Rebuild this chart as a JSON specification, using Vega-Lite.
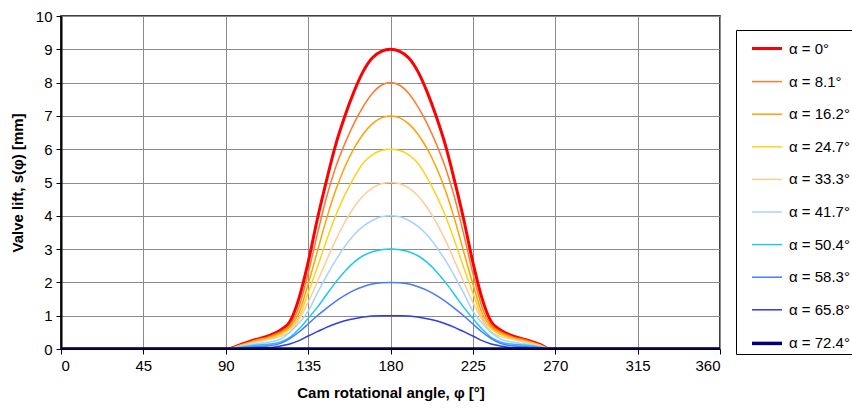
{
  "$schema": "https://vega.github.io/schema/vega-lite/v6.json",
  "width": 659,
  "height": 333,
  "autosize": {"type": "none"},
  "padding": {"left": 61, "top": 16, "right": 132, "bottom": 63},
  "background": "white",
  "config": {
    "font": "Liberation Sans",
    "view": {"stroke": "black", "strokeWidth": 1.5},
    "axis": {
      "labelFont": "Liberation Sans", "labelFontSize": 15, "labelColor": "black",
      "titleFont": "Liberation Sans", "titleFontSize": 15, "titleFontWeight": "bold", "titleColor": "black",
      "gridColor": "#8c8c8c", "gridOpacity": 1, "gridWidth": 1,
      "domainColor": "black", "tickColor": "black", "tickSize": 5
    },
    "legend": {
      "orient": "none", "legendX": 675, "legendY": 14,
      "symbolType": "stroke", "symbolSize": 900, "symbolOffset": 12,
      "padding": 2, "rowPadding": 8.6, "labelFontSize": 15, "labelFont": "Liberation Sans",
      "labelColor": "black", "labelOffset": 5, "strokeColor": "black", "fillColor": "white"
    }
  },
  "data": {"values": [
    {"s":"α = 0°","phi":0,"lift":0},{"s":"α = 0°","phi":91,"lift":0},{"s":"α = 0°","phi":98,"lift":0.13},{"s":"α = 0°","phi":106,"lift":0.28},{"s":"α = 0°","phi":114,"lift":0.41},{"s":"α = 0°","phi":120,"lift":0.57},{"s":"α = 0°","phi":125,"lift":0.82},{"s":"α = 0°","phi":130,"lift":1.52},{"s":"α = 0°","phi":135,"lift":2.6},{"s":"α = 0°","phi":140,"lift":3.89},{"s":"α = 0°","phi":145,"lift":5.05},{"s":"α = 0°","phi":150,"lift":6.12},{"s":"α = 0°","phi":155,"lift":6.98},{"s":"α = 0°","phi":160,"lift":7.72},{"s":"α = 0°","phi":165,"lift":8.33},{"s":"α = 0°","phi":170,"lift":8.74},{"s":"α = 0°","phi":175,"lift":8.94},{"s":"α = 0°","phi":180,"lift":9},{"s":"α = 0°","phi":185,"lift":8.94},{"s":"α = 0°","phi":190,"lift":8.74},{"s":"α = 0°","phi":195,"lift":8.33},{"s":"α = 0°","phi":200,"lift":7.72},{"s":"α = 0°","phi":205,"lift":6.98},{"s":"α = 0°","phi":210,"lift":6.12},{"s":"α = 0°","phi":215,"lift":5.05},{"s":"α = 0°","phi":220,"lift":3.89},{"s":"α = 0°","phi":225,"lift":2.6},{"s":"α = 0°","phi":230,"lift":1.52},{"s":"α = 0°","phi":235,"lift":0.82},{"s":"α = 0°","phi":240,"lift":0.57},{"s":"α = 0°","phi":246,"lift":0.41},{"s":"α = 0°","phi":254,"lift":0.28},{"s":"α = 0°","phi":262,"lift":0.13},{"s":"α = 0°","phi":267,"lift":0},{"s":"α = 0°","phi":360,"lift":0},

    {"s":"α = 8.1°","phi":0,"lift":0},{"s":"α = 8.1°","phi":91,"lift":0},{"s":"α = 8.1°","phi":98,"lift":0.12},{"s":"α = 8.1°","phi":106,"lift":0.26},{"s":"α = 8.1°","phi":114,"lift":0.38},{"s":"α = 8.1°","phi":120,"lift":0.52},{"s":"α = 8.1°","phi":125,"lift":0.72},{"s":"α = 8.1°","phi":130,"lift":1.26},{"s":"α = 8.1°","phi":135,"lift":2.27},{"s":"α = 8.1°","phi":140,"lift":3.44},{"s":"α = 8.1°","phi":145,"lift":4.55},{"s":"α = 8.1°","phi":150,"lift":5.45},{"s":"α = 8.1°","phi":155,"lift":6.16},{"s":"α = 8.1°","phi":160,"lift":6.77},{"s":"α = 8.1°","phi":165,"lift":7.27},{"s":"α = 8.1°","phi":170,"lift":7.67},{"s":"α = 8.1°","phi":175,"lift":7.92},{"s":"α = 8.1°","phi":180,"lift":8},{"s":"α = 8.1°","phi":185,"lift":7.92},{"s":"α = 8.1°","phi":190,"lift":7.67},{"s":"α = 8.1°","phi":195,"lift":7.27},{"s":"α = 8.1°","phi":200,"lift":6.77},{"s":"α = 8.1°","phi":205,"lift":6.16},{"s":"α = 8.1°","phi":210,"lift":5.45},{"s":"α = 8.1°","phi":215,"lift":4.55},{"s":"α = 8.1°","phi":220,"lift":3.44},{"s":"α = 8.1°","phi":225,"lift":2.27},{"s":"α = 8.1°","phi":230,"lift":1.26},{"s":"α = 8.1°","phi":235,"lift":0.72},{"s":"α = 8.1°","phi":240,"lift":0.52},{"s":"α = 8.1°","phi":246,"lift":0.38},{"s":"α = 8.1°","phi":254,"lift":0.26},{"s":"α = 8.1°","phi":262,"lift":0.12},{"s":"α = 8.1°","phi":267,"lift":0},{"s":"α = 8.1°","phi":360,"lift":0},

    {"s":"α = 16.2°","phi":0,"lift":0},{"s":"α = 16.2°","phi":91,"lift":0},{"s":"α = 16.2°","phi":98,"lift":0.11},{"s":"α = 16.2°","phi":106,"lift":0.24},{"s":"α = 16.2°","phi":114,"lift":0.35},{"s":"α = 16.2°","phi":120,"lift":0.48},{"s":"α = 16.2°","phi":125,"lift":0.66},{"s":"α = 16.2°","phi":130,"lift":1.08},{"s":"α = 16.2°","phi":135,"lift":1.95},{"s":"α = 16.2°","phi":140,"lift":2.92},{"s":"α = 16.2°","phi":145,"lift":3.9},{"s":"α = 16.2°","phi":150,"lift":4.76},{"s":"α = 16.2°","phi":155,"lift":5.46},{"s":"α = 16.2°","phi":160,"lift":6.02},{"s":"α = 16.2°","phi":165,"lift":6.45},{"s":"α = 16.2°","phi":170,"lift":6.76},{"s":"α = 16.2°","phi":175,"lift":6.94},{"s":"α = 16.2°","phi":180,"lift":7},{"s":"α = 16.2°","phi":185,"lift":6.94},{"s":"α = 16.2°","phi":190,"lift":6.76},{"s":"α = 16.2°","phi":195,"lift":6.45},{"s":"α = 16.2°","phi":200,"lift":6.02},{"s":"α = 16.2°","phi":205,"lift":5.46},{"s":"α = 16.2°","phi":210,"lift":4.76},{"s":"α = 16.2°","phi":215,"lift":3.9},{"s":"α = 16.2°","phi":220,"lift":2.92},{"s":"α = 16.2°","phi":225,"lift":1.95},{"s":"α = 16.2°","phi":230,"lift":1.08},{"s":"α = 16.2°","phi":235,"lift":0.66},{"s":"α = 16.2°","phi":240,"lift":0.48},{"s":"α = 16.2°","phi":246,"lift":0.35},{"s":"α = 16.2°","phi":254,"lift":0.24},{"s":"α = 16.2°","phi":262,"lift":0.11},{"s":"α = 16.2°","phi":267,"lift":0},{"s":"α = 16.2°","phi":360,"lift":0},

    {"s":"α = 24.7°","phi":0,"lift":0},{"s":"α = 24.7°","phi":91,"lift":0},{"s":"α = 24.7°","phi":98,"lift":0.1},{"s":"α = 24.7°","phi":106,"lift":0.22},{"s":"α = 24.7°","phi":114,"lift":0.32},{"s":"α = 24.7°","phi":120,"lift":0.44},{"s":"α = 24.7°","phi":125,"lift":0.6},{"s":"α = 24.7°","phi":130,"lift":0.94},{"s":"α = 24.7°","phi":135,"lift":1.68},{"s":"α = 24.7°","phi":140,"lift":2.45},{"s":"α = 24.7°","phi":145,"lift":3.25},{"s":"α = 24.7°","phi":150,"lift":4.0},{"s":"α = 24.7°","phi":155,"lift":4.62},{"s":"α = 24.7°","phi":160,"lift":5.15},{"s":"α = 24.7°","phi":165,"lift":5.58},{"s":"α = 24.7°","phi":170,"lift":5.83},{"s":"α = 24.7°","phi":175,"lift":5.96},{"s":"α = 24.7°","phi":180,"lift":6},{"s":"α = 24.7°","phi":185,"lift":5.96},{"s":"α = 24.7°","phi":190,"lift":5.83},{"s":"α = 24.7°","phi":195,"lift":5.58},{"s":"α = 24.7°","phi":200,"lift":5.15},{"s":"α = 24.7°","phi":205,"lift":4.62},{"s":"α = 24.7°","phi":210,"lift":4.0},{"s":"α = 24.7°","phi":215,"lift":3.25},{"s":"α = 24.7°","phi":220,"lift":2.45},{"s":"α = 24.7°","phi":225,"lift":1.68},{"s":"α = 24.7°","phi":230,"lift":0.94},{"s":"α = 24.7°","phi":235,"lift":0.6},{"s":"α = 24.7°","phi":240,"lift":0.44},{"s":"α = 24.7°","phi":246,"lift":0.32},{"s":"α = 24.7°","phi":254,"lift":0.22},{"s":"α = 24.7°","phi":262,"lift":0.1},{"s":"α = 24.7°","phi":267,"lift":0},{"s":"α = 24.7°","phi":360,"lift":0},

    {"s":"α = 33.3°","phi":0,"lift":0},{"s":"α = 33.3°","phi":91,"lift":0},{"s":"α = 33.3°","phi":98,"lift":0.09},{"s":"α = 33.3°","phi":106,"lift":0.2},{"s":"α = 33.3°","phi":114,"lift":0.29},{"s":"α = 33.3°","phi":120,"lift":0.38},{"s":"α = 33.3°","phi":125,"lift":0.51},{"s":"α = 33.3°","phi":130,"lift":0.88},{"s":"α = 33.3°","phi":135,"lift":1.4},{"s":"α = 33.3°","phi":140,"lift":2.01},{"s":"α = 33.3°","phi":145,"lift":2.65},{"s":"α = 33.3°","phi":150,"lift":3.26},{"s":"α = 33.3°","phi":155,"lift":3.8},{"s":"α = 33.3°","phi":160,"lift":4.25},{"s":"α = 33.3°","phi":165,"lift":4.6},{"s":"α = 33.3°","phi":170,"lift":4.83},{"s":"α = 33.3°","phi":175,"lift":4.96},{"s":"α = 33.3°","phi":180,"lift":5},{"s":"α = 33.3°","phi":185,"lift":4.96},{"s":"α = 33.3°","phi":190,"lift":4.83},{"s":"α = 33.3°","phi":195,"lift":4.6},{"s":"α = 33.3°","phi":200,"lift":4.25},{"s":"α = 33.3°","phi":205,"lift":3.8},{"s":"α = 33.3°","phi":210,"lift":3.26},{"s":"α = 33.3°","phi":215,"lift":2.65},{"s":"α = 33.3°","phi":220,"lift":2.01},{"s":"α = 33.3°","phi":225,"lift":1.4},{"s":"α = 33.3°","phi":230,"lift":0.88},{"s":"α = 33.3°","phi":235,"lift":0.51},{"s":"α = 33.3°","phi":240,"lift":0.38},{"s":"α = 33.3°","phi":246,"lift":0.29},{"s":"α = 33.3°","phi":254,"lift":0.2},{"s":"α = 33.3°","phi":262,"lift":0.09},{"s":"α = 33.3°","phi":267,"lift":0},{"s":"α = 33.3°","phi":360,"lift":0},

    {"s":"α = 41.7°","phi":0,"lift":0},{"s":"α = 41.7°","phi":91,"lift":0},{"s":"α = 41.7°","phi":98,"lift":0.07},{"s":"α = 41.7°","phi":106,"lift":0.15},{"s":"α = 41.7°","phi":114,"lift":0.21},{"s":"α = 41.7°","phi":120,"lift":0.3},{"s":"α = 41.7°","phi":125,"lift":0.5},{"s":"α = 41.7°","phi":130,"lift":0.78},{"s":"α = 41.7°","phi":135,"lift":1.14},{"s":"α = 41.7°","phi":140,"lift":1.68},{"s":"α = 41.7°","phi":145,"lift":2.19},{"s":"α = 41.7°","phi":150,"lift":2.66},{"s":"α = 41.7°","phi":155,"lift":3.07},{"s":"α = 41.7°","phi":160,"lift":3.42},{"s":"α = 41.7°","phi":165,"lift":3.68},{"s":"α = 41.7°","phi":170,"lift":3.86},{"s":"α = 41.7°","phi":175,"lift":3.97},{"s":"α = 41.7°","phi":180,"lift":4},{"s":"α = 41.7°","phi":185,"lift":3.97},{"s":"α = 41.7°","phi":190,"lift":3.86},{"s":"α = 41.7°","phi":195,"lift":3.68},{"s":"α = 41.7°","phi":200,"lift":3.42},{"s":"α = 41.7°","phi":205,"lift":3.07},{"s":"α = 41.7°","phi":210,"lift":2.66},{"s":"α = 41.7°","phi":215,"lift":2.19},{"s":"α = 41.7°","phi":220,"lift":1.68},{"s":"α = 41.7°","phi":225,"lift":1.14},{"s":"α = 41.7°","phi":230,"lift":0.78},{"s":"α = 41.7°","phi":235,"lift":0.5},{"s":"α = 41.7°","phi":240,"lift":0.3},{"s":"α = 41.7°","phi":246,"lift":0.21},{"s":"α = 41.7°","phi":254,"lift":0.15},{"s":"α = 41.7°","phi":262,"lift":0.07},{"s":"α = 41.7°","phi":267,"lift":0},{"s":"α = 41.7°","phi":360,"lift":0},

    {"s":"α = 50.4°","phi":0,"lift":0},{"s":"α = 50.4°","phi":91,"lift":0},{"s":"α = 50.4°","phi":98,"lift":0.05},{"s":"α = 50.4°","phi":106,"lift":0.11},{"s":"α = 50.4°","phi":114,"lift":0.15},{"s":"α = 50.4°","phi":120,"lift":0.21},{"s":"α = 50.4°","phi":125,"lift":0.35},{"s":"α = 50.4°","phi":130,"lift":0.6},{"s":"α = 50.4°","phi":135,"lift":0.92},{"s":"α = 50.4°","phi":140,"lift":1.25},{"s":"α = 50.4°","phi":145,"lift":1.63},{"s":"α = 50.4°","phi":150,"lift":2.0},{"s":"α = 50.4°","phi":155,"lift":2.33},{"s":"α = 50.4°","phi":160,"lift":2.6},{"s":"α = 50.4°","phi":165,"lift":2.8},{"s":"α = 50.4°","phi":170,"lift":2.92},{"s":"α = 50.4°","phi":175,"lift":2.98},{"s":"α = 50.4°","phi":180,"lift":3},{"s":"α = 50.4°","phi":185,"lift":2.98},{"s":"α = 50.4°","phi":190,"lift":2.92},{"s":"α = 50.4°","phi":195,"lift":2.8},{"s":"α = 50.4°","phi":200,"lift":2.6},{"s":"α = 50.4°","phi":205,"lift":2.33},{"s":"α = 50.4°","phi":210,"lift":2.0},{"s":"α = 50.4°","phi":215,"lift":1.63},{"s":"α = 50.4°","phi":220,"lift":1.25},{"s":"α = 50.4°","phi":225,"lift":0.92},{"s":"α = 50.4°","phi":230,"lift":0.6},{"s":"α = 50.4°","phi":235,"lift":0.35},{"s":"α = 50.4°","phi":240,"lift":0.21},{"s":"α = 50.4°","phi":246,"lift":0.15},{"s":"α = 50.4°","phi":254,"lift":0.11},{"s":"α = 50.4°","phi":262,"lift":0.05},{"s":"α = 50.4°","phi":267,"lift":0},{"s":"α = 50.4°","phi":360,"lift":0},

    {"s":"α = 58.3°","phi":0,"lift":0},{"s":"α = 58.3°","phi":91,"lift":0},{"s":"α = 58.3°","phi":98,"lift":0.03},{"s":"α = 58.3°","phi":106,"lift":0.07},{"s":"α = 58.3°","phi":114,"lift":0.1},{"s":"α = 58.3°","phi":120,"lift":0.17},{"s":"α = 58.3°","phi":125,"lift":0.31},{"s":"α = 58.3°","phi":130,"lift":0.51},{"s":"α = 58.3°","phi":135,"lift":0.75},{"s":"α = 58.3°","phi":140,"lift":1},{"s":"α = 58.3°","phi":145,"lift":1.22},{"s":"α = 58.3°","phi":150,"lift":1.43},{"s":"α = 58.3°","phi":155,"lift":1.61},{"s":"α = 58.3°","phi":160,"lift":1.76},{"s":"α = 58.3°","phi":165,"lift":1.87},{"s":"α = 58.3°","phi":170,"lift":1.95},{"s":"α = 58.3°","phi":175,"lift":1.99},{"s":"α = 58.3°","phi":180,"lift":2},{"s":"α = 58.3°","phi":185,"lift":1.99},{"s":"α = 58.3°","phi":190,"lift":1.95},{"s":"α = 58.3°","phi":195,"lift":1.87},{"s":"α = 58.3°","phi":200,"lift":1.76},{"s":"α = 58.3°","phi":205,"lift":1.61},{"s":"α = 58.3°","phi":210,"lift":1.43},{"s":"α = 58.3°","phi":215,"lift":1.22},{"s":"α = 58.3°","phi":220,"lift":1},{"s":"α = 58.3°","phi":225,"lift":0.75},{"s":"α = 58.3°","phi":230,"lift":0.51},{"s":"α = 58.3°","phi":235,"lift":0.31},{"s":"α = 58.3°","phi":240,"lift":0.17},{"s":"α = 58.3°","phi":246,"lift":0.1},{"s":"α = 58.3°","phi":254,"lift":0.07},{"s":"α = 58.3°","phi":262,"lift":0.03},{"s":"α = 58.3°","phi":267,"lift":0},{"s":"α = 58.3°","phi":360,"lift":0},

    {"s":"α = 65.8°","phi":0,"lift":0},{"s":"α = 65.8°","phi":91,"lift":0},{"s":"α = 65.8°","phi":98,"lift":0.01},{"s":"α = 65.8°","phi":106,"lift":0.03},{"s":"α = 65.8°","phi":114,"lift":0.04},{"s":"α = 65.8°","phi":120,"lift":0.09},{"s":"α = 65.8°","phi":125,"lift":0.15},{"s":"α = 65.8°","phi":130,"lift":0.25},{"s":"α = 65.8°","phi":135,"lift":0.39},{"s":"α = 65.8°","phi":140,"lift":0.52},{"s":"α = 65.8°","phi":145,"lift":0.65},{"s":"α = 65.8°","phi":150,"lift":0.76},{"s":"α = 65.8°","phi":155,"lift":0.85},{"s":"α = 65.8°","phi":160,"lift":0.91},{"s":"α = 65.8°","phi":165,"lift":0.96},{"s":"α = 65.8°","phi":170,"lift":0.99},{"s":"α = 65.8°","phi":175,"lift":1},{"s":"α = 65.8°","phi":180,"lift":1},{"s":"α = 65.8°","phi":185,"lift":1},{"s":"α = 65.8°","phi":190,"lift":0.99},{"s":"α = 65.8°","phi":195,"lift":0.96},{"s":"α = 65.8°","phi":200,"lift":0.91},{"s":"α = 65.8°","phi":205,"lift":0.85},{"s":"α = 65.8°","phi":210,"lift":0.76},{"s":"α = 65.8°","phi":215,"lift":0.65},{"s":"α = 65.8°","phi":220,"lift":0.52},{"s":"α = 65.8°","phi":225,"lift":0.39},{"s":"α = 65.8°","phi":230,"lift":0.25},{"s":"α = 65.8°","phi":235,"lift":0.15},{"s":"α = 65.8°","phi":240,"lift":0.09},{"s":"α = 65.8°","phi":246,"lift":0.04},{"s":"α = 65.8°","phi":254,"lift":0.03},{"s":"α = 65.8°","phi":262,"lift":0.01},{"s":"α = 65.8°","phi":267,"lift":0},{"s":"α = 65.8°","phi":360,"lift":0},

    {"s":"α = 72.4°","phi":0,"lift":0},{"s":"α = 72.4°","phi":360,"lift":0}
  ]},
  "mark": {"type": "line", "clip": true, "interpolate": "monotone"},
  "encoding": {
    "x": {
      "field": "phi", "type": "quantitative",
      "scale": {"domain": [0, 360], "nice": false},
      "axis": {"values": [0,45,90,135,180,225,270,315,360], "title": "Cam rotational angle, φ [°]", "labelPadding": 4, "titlePadding": 12}
    },
    "y": {
      "field": "lift", "type": "quantitative",
      "scale": {"domain": [0, 10], "nice": false},
      "axis": {"values": [0,1,2,3,4,5,6,7,8,9,10], "title": "Valve lift, s(φ) [mm]", "domainWidth": 2, "labelPadding": 4, "titlePadding": 10}
    },
    "color": {
      "field": "s", "type": "nominal", "title": null,
      "scale": {
        "domain": ["α = 0°","α = 8.1°","α = 16.2°","α = 24.7°","α = 33.3°","α = 41.7°","α = 50.4°","α = 58.3°","α = 65.8°","α = 72.4°"],
        "range": ["#ff0000","#ff7a2a","#ffa200","#ffd21a","#ffcc99","#a8d2ff","#1ec8f0","#4b78ff","#2a3de8","#00007a"]
      }
    },
    "strokeWidth": {
      "field": "s", "type": "nominal", "title": null,
      "scale": {
        "type": "ordinal",
        "domain": ["α = 0°","α = 8.1°","α = 16.2°","α = 24.7°","α = 33.3°","α = 41.7°","α = 50.4°","α = 58.3°","α = 65.8°","α = 72.4°"],
        "range": [3, 1.5, 1.5, 1.5, 1.5, 1.5, 1.5, 1.5, 1.5, 3.5]
      }
    }
  }
}
